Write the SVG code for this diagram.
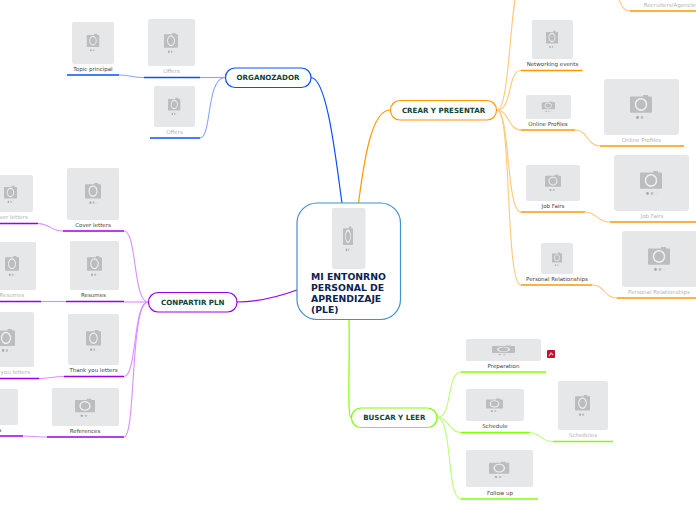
<svg xmlns="http://www.w3.org/2000/svg" width="696" height="520" viewBox="0 0 696 520">
<style>
text{font-family:"DejaVu Sans","Liberation Sans",sans-serif}
.im{fill:#e6e7e8}
.l{font-size:5.5px;fill:#444;text-anchor:middle}
.g{font-size:5.5px;fill:#b4b4b4;text-anchor:middle}
.t{font-size:7.1px;font-weight:bold;fill:#0e4334;text-anchor:middle}
.c{font-size:9.3px;font-weight:bold;fill:#0b2352}
.n{fill:#fff;stroke-width:1.2}
path,line{fill:none}
.bl{stroke:#0a4fff}.pu{stroke:#9900ee}.or{stroke:#ff9900}.gr{stroke:#80ff00}
.u{stroke-width:1.7}
.bl2{stroke:#86a6ff;stroke-width:1.1}.pu2{stroke:#d88fff;stroke-width:1.1}.or2{stroke:#ffc878;stroke-width:1.1}.gr2{stroke:#b8ff78;stroke-width:1.1}
.m{stroke-width:1.2}
</style>
<defs>
<symbol id="cam" viewBox="0 0 22 24" preserveAspectRatio="none">
<path d="M1 2.5H13V1H18V2.5H21Q22 2.500 22 3.500V17Q22 18 21 18H1Q0 18 0 17V3.500Q0 2.500 1 2.500Z" style="fill:#bcbdbe"/>
<ellipse cx="11" cy="10" rx="5.500" ry="5.500" style="fill:#bcbdbe;stroke:#eef0f0;stroke-width:1.5"/>
<circle cx="7.500" cy="22.500" r="1.400" style="fill:#a8a9aa"/>
<circle cx="12" cy="22.500" r="1.400" style="fill:#bcbdbe"/>
<circle cx="16.500" cy="22.500" r="1.200" style="fill:#e0e1e2"/>
</symbol>
</defs>
<g id="connectors">
<path class="bl m" d="M342 203C337 170 328 78 311 77.500"/>
<path class="or m" d="M358.500 203C363 170 370 110 390 110"/>
<path class="pu m" d="M297 290C275 298 258 302 237 302"/>
<path class="gr m" d="M349 320C350 360 347 417.500 351 417.500"/>
<path class="bl2" d="M225 77.500H200"/>
<path class="bl2" d="M119 75C130 75 132 77.500 144 77.500"/>
<path class="bl2" d="M225 77.500C206 78 212 138 200 138"/>
<path class="pu2" d="M148 302C133 302 137 231 124 231"/>
<path class="pu2" d="M148 302H124"/>
<path class="pu2" d="M66 301.500H41"/>
<path class="pu2" d="M148 302C133 302 137 376.500 124 376.500"/>
<path class="pu2" d="M148 302C130 302 136 437 124 437"/>
<path class="pu2" d="M63 231C50 231 50 223.500 38 223.500"/>
<path class="pu2" d="M64 376.500C52 376.500 50 378.500 39 378.500"/>
<path class="pu2" d="M47 437C36 437 34 436 23 436"/>
<path class="or2" d="M497 110C510 110 510 0 518 -10"/>
<path class="or2" d="M497 110C513 110 507 70.500 521 70.500"/>
<path class="or2" d="M497 110C509 110 508 130 521 130"/>
<path class="or2" d="M497 110C510 110 506 212 521 212"/>
<path class="or2" d="M497 110C512 110 505 285 521 285"/>
<path class="or2" d="M575 130C588 130 587 146 600 146"/>
<path class="or2" d="M585 212C597 212 597 222 610 222"/>
<path class="or2" d="M592 285C605 285 604 298 617 298"/>
<path class="or2" d="M618 -5C620 5 624 11 630 11"/>
<path class="gr2" d="M437 417.500C453 418 446 372 461 372"/>
<path class="gr2" d="M437 417.500C450 418 449 432.500 461 432.500"/>
<path class="gr2" d="M437 417.500C453 418 446 499 461 499"/>
<path class="gr2" d="M529 432.500C541 432.500 540 441.500 553 441.500"/>
</g>
<g id="center"><rect class="n" x="297" y="203" width="103.500" height="116.500" rx="20" style="stroke:#3f92d2"/><rect class="im" x="332" y="208" width="33.500" height="61" rx="2"/><use href="#cam" x="343" y="225.500" width="10" height="26"/><text class="c"><tspan x="311" y="279.500">MI ENTONRNO</tspan><tspan x="311" y="290.500">PERSONAL DE</tspan><tspan x="311" y="301.500">APRENDIZAJE</tspan><tspan x="311" y="312.500">(PLE)</tspan></text></g>
<g id="organozador"><rect class="n bl" x="225.500" y="68" width="85.500" height="19.500" rx="9.500"/><text class="t" x="268" y="80.200">ORGANOZADOR</text></g>
<g id="crear"><rect class="n or" x="390.500" y="100.500" width="106" height="19.500" rx="9.500"/><text class="t" x="443.500" y="113">CREAR Y PRESENTAR</text></g>
<g id="conpartir"><rect class="n pu" x="148.500" y="292.500" width="88.500" height="19.500" rx="9.500"/><text class="t" x="192.800" y="305">CONPARTIR PLN</text></g>
<g id="buscar"><rect class="n gr" x="351.500" y="408" width="85.500" height="19.500" rx="9.500"/><text class="t" x="394.300" y="420.200">BUSCAR Y LEER</text></g>
<g id="topic"><rect class="im" x="72" y="22" width="42" height="42" rx="2"/><use href="#cam" x="86.500" y="33" width="13" height="18.500"/><text class="l" x="93" y="71">Topic principal</text><line class="bl u" x1="67" y1="75" x2="119" y2="75"/></g>
<g id="offers1"><rect class="im" x="148" y="19" width="47" height="47" rx="2"/><use href="#cam" x="164" y="32" width="14" height="21"/><text class="g" x="171.500" y="73">Offers</text><line class="bl u" x1="144" y1="77.500" x2="200" y2="77.500"/></g>
<g id="offers2"><rect class="im" x="154" y="86" width="41" height="41" rx="2"/><use href="#cam" x="168" y="97" width="12.500" height="18"/><text class="g" x="174.500" y="134">Offers</text><line class="bl u" x1="150" y1="138" x2="200" y2="138"/></g>
<g id="cover2"><rect class="im" x="-17" y="175" width="50" height="37" rx="2"/><use href="#cam" x="4" y="185" width="13" height="18"/><text class="g" x="10" y="219">Cover letters</text><line class="pu u" x1="-20" y1="223.500" x2="38" y2="223.500"/></g>
<g id="cover"><rect class="im" x="67" y="168" width="52" height="52" rx="2"/><use href="#cam" x="85" y="182" width="16" height="22"/><text class="l" x="93" y="227">Cover letters</text><line class="pu u" x1="63" y1="231" x2="124" y2="231"/></g>
<g id="resumes2"><rect class="im" x="-13" y="242" width="49" height="48" rx="2"/><use href="#cam" x="5" y="255" width="14" height="21"/><text class="g" x="12" y="297">Resumes</text><line class="pu u" x1="-20" y1="301.500" x2="41" y2="301.500"/></g>
<g id="resumes"><rect class="im" x="70" y="241" width="49" height="49" rx="2"/><use href="#cam" x="87" y="255" width="15" height="21"/><text class="l" x="93.500" y="297">Resumes</text><line class="pu u" x1="66" y1="301.500" x2="124" y2="301.500"/></g>
<g id="thanks2"><rect class="im" x="-22" y="312" width="56" height="55" rx="2"/><use href="#cam" x="-3" y="328" width="18" height="24"/><text class="g" x="6" y="374">Thank you letters</text><line class="pu u" x1="-20" y1="378.500" x2="39" y2="378.500"/></g>
<g id="thanks"><rect class="im" x="68" y="314" width="51" height="51" rx="2"/><use href="#cam" x="86" y="329" width="15" height="22"/><text class="l" x="93.500" y="372">Thank you letters</text><line class="pu u" x1="64" y1="376.500" x2="124" y2="376.500"/></g>
<g id="references2"><rect class="im" x="-49" y="389" width="67" height="36" rx="2"/><text class="l" x="-14" y="432">References</text><line class="pu u" x1="-20" y1="436" x2="23" y2="436"/></g>
<g id="references"><rect class="im" x="52" y="388" width="67" height="38" rx="2"/><use href="#cam" x="75" y="398" width="20" height="19"/><text class="l" x="85" y="433">References</text><line class="pu u" x1="47" y1="437" x2="124" y2="437"/></g>
<g id="recruiters"><text class="g" x="671" y="7">Recruiters/Agencies</text><line class="or u" x1="630" y1="11" x2="696" y2="11"/></g>
<g id="networking"><rect class="im" x="532" y="20" width="41" height="39" rx="2"/><use href="#cam" x="546" y="30" width="12" height="18"/><text class="l" x="552.500" y="66">Networking events</text><line class="or u" x1="521" y1="70.500" x2="582.500" y2="70.500"/></g>
<g id="online"><rect class="im" x="526" y="95" width="45" height="24" rx="2"/><use href="#cam" x="541.500" y="101" width="13.500" height="11"/><text class="l" x="548" y="126">Online Profiles</text><line class="or u" x1="521" y1="130" x2="575" y2="130"/></g>
<g id="online2"><rect class="im" x="604" y="79" width="75" height="56" rx="3"/><use href="#cam" x="630" y="94" width="22" height="25"/><text class="g" x="641.500" y="142">Online Profiles</text><line class="or u" x1="600" y1="146" x2="684" y2="146"/></g>
<g id="job"><rect class="im" x="526" y="165" width="54" height="36" rx="2"/><use href="#cam" x="545" y="174" width="16" height="17"/><text class="l" x="553" y="208">Job Fairs</text><line class="or u" x1="521" y1="212" x2="585" y2="212"/></g>
<g id="job2"><rect class="im" x="614" y="155" width="75" height="56" rx="3"/><use href="#cam" x="640" y="170" width="22" height="25"/><text class="g" x="652" y="218">Job Fairs</text><line class="or u" x1="610" y1="222" x2="696" y2="222"/></g>
<g id="personal"><rect class="im" x="541" y="243" width="32" height="31" rx="2"/><use href="#cam" x="552" y="252" width="10" height="14"/><text class="l" x="557" y="281">Personal Relationships</text><line class="or u" x1="521" y1="285" x2="592" y2="285"/></g>
<g id="personal2"><rect class="im" x="622" y="231" width="76" height="56" rx="3"/><use href="#cam" x="648" y="246" width="22" height="25"/><text class="g" x="659" y="294">Personal Relationships</text><line class="or u" x1="617" y1="298" x2="696" y2="298"/></g>
<g id="preparation"><rect class="im" x="466" y="339" width="75" height="22" rx="2"/><use href="#cam" x="492" y="345" width="23" height="10.500"/><text class="l" x="503.500" y="368">Preparation</text><line class="gr u" x1="461" y1="372" x2="546" y2="372"/><rect x="547" y="350" width="8" height="8" rx="1" fill="#c4122f"/><path d="M549 356L551 353L553 355" stroke="#f5b5c0" stroke-width="1.200"/></g>
<g id="schedule"><rect class="im" x="466" y="389" width="58" height="32" rx="2"/><use href="#cam" x="486" y="398" width="17" height="14"/><text class="l" x="495" y="428">Schedule</text><line class="gr u" x1="461" y1="432.500" x2="529" y2="432.500"/></g>
<g id="schedules"><rect class="im" x="558" y="381" width="50" height="49" rx="2"/><use href="#cam" x="575" y="394" width="15" height="22"/><text class="g" x="583" y="437">Schedules</text><line class="gr u" x1="553" y1="441.500" x2="613" y2="441.500"/></g>
<g id="follow"><rect class="im" x="466" y="450" width="67" height="37" rx="2"/><use href="#cam" x="489" y="461" width="20.500" height="17"/><text class="l" x="500" y="495">Follow up</text><line class="gr u" x1="461" y1="499" x2="538" y2="499"/></g>
</svg>
